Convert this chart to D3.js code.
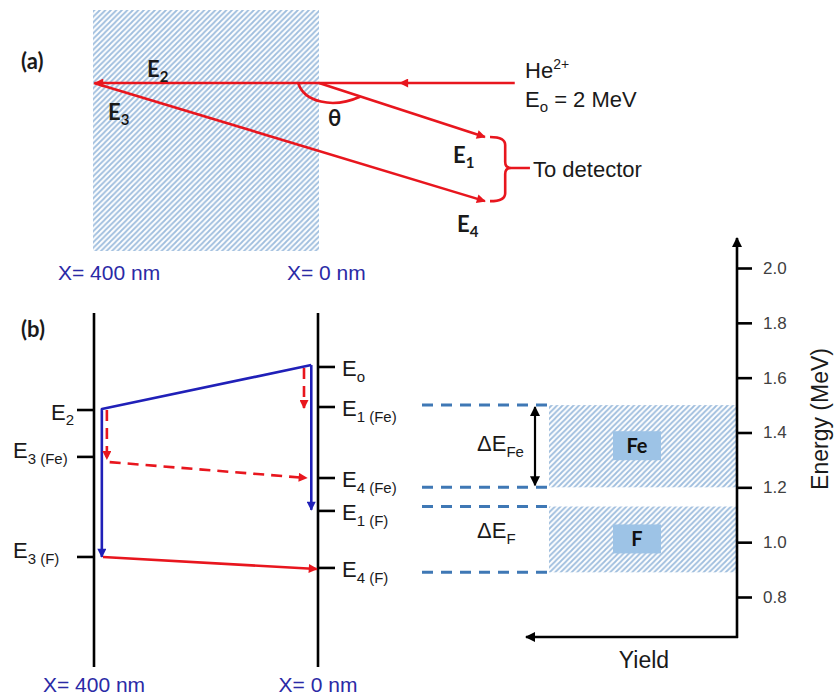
<!DOCTYPE html>
<html><head><meta charset="utf-8">
<script src="https://cdn.jsdelivr.net/npm/d3@7"></script>
<style>body{margin:0;background:#fff} svg{display:block}</style>
</head><body><svg id="c" width="834" height="696"></svg>
<script>
// ---------- data ----------
const energyTicks = [0.8, 1.0, 1.2, 1.4, 1.6, 1.8, 2.0];
const bands = [{name:"Fe", lo:1.2, hi:1.5}, {name:"F", lo:0.89, hi:1.13}];
const leftLevels = [{sub:"2", E:1.482}, {sub:"3 (Fe)", E:1.311}, {sub:"3 (F)", E:0.946}];
const rightLevels = [{sub:"o", E:1.639}, {sub:"1 (Fe)", E:1.493}, {sub:"4 (Fe)", E:1.234}, {sub:"1 (F)", E:1.114}, {sub:"4 (F)", E:0.906}];
const blueToBack = [[12,1.646],[386,1.486],[386,0.946]];
const blueSurface = [[12,1.646],[12,1.118]];
const redDashed = [[[25,1.635],[25,1.489]], [[377,1.482],[377,1.303]], [[372,1.292],[20,1.234]]];
const redSolid = [[384,0.946],[2,0.902]];
const depthLabels = [400, 0];
// panel (a): depth (nm) and exit offset
const beamIn = [[-348,0],[-144,0],[398,0]];
const exitE1 = [[0,0],[-295,96]];
const exitE4 = [[400,0],[-295,210]];

// ---------- setup ----------
const svg = d3.select("#c");
const RED = "#e8161e", BLUE = "#2020b8", DBLUE = "#2a2aa6", DASH = "#3f78b5", HATCH = "#9fbede";
const ARIAL = "'Liberation Sans', Arial, sans-serif";
const BOLD = "Lato, 'Open Sans', 'DejaVu Sans', sans-serif";
const defs = svg.append("defs");
const pat = defs.append("pattern").attr("id","hatch").attr("patternUnits","userSpaceOnUse")
  .attr("width",5.5).attr("height",5.5);
pat.append("rect").attr("width",5.5).attr("height",5.5).attr("fill","#fff");
pat.append("path").attr("d","M-1,1 L1,-1 M0,5.5 L5.5,0 M4.5,6.5 L6.5,4.5")
  .attr("stroke",HATCH).attr("stroke-width",1.8);
function marker(id, color, w, h){
  defs.append("marker").attr("id",id).attr("viewBox","0 0 10 10").attr("refX",9).attr("refY",5)
    .attr("markerWidth",w).attr("markerHeight",h).attr("markerUnits","userSpaceOnUse").attr("orient","auto")
    .append("path").attr("d","M0,0 L10,5 L0,10 z").attr("fill",color);
}
marker("ar", RED, 11, 9); marker("ab", BLUE, 10, 9); marker("ak", "#000", 11, 10);
defs.append("marker").attr("id","akS").attr("viewBox","0 0 10 10").attr("refX",9).attr("refY",5)
  .attr("markerWidth",11).attr("markerHeight",10).attr("markerUnits","userSpaceOnUse").attr("orient","auto-start-reverse")
  .append("path").attr("d","M0,0 L10,5 L0,10 z").attr("fill","#000");

function label(x, y, main, sub, o){
  o = o || {};
  const t = svg.append("text").attr("x",x).attr("y",y)
    .attr("font-family",o.family||ARIAL).attr("font-size",o.size||21)
    .attr("font-weight",o.weight||"normal").attr("fill",o.fill||"#1a1a1a")
    .attr("text-anchor",o.anchor||"start");
  t.append("tspan").text(main);
  if (sub){
    const sd = o.subDy!=null?o.subDy:6;
    t.append("tspan").attr("font-size",o.subSize||15).attr("dy",sd).text(sub);
    if (o.after){ t.append("tspan").attr("dy",-sd).text(o.after); }
  }
  return t;
}
const line = d3.line();

// ---------- panel (a) ----------
const xA = d3.scaleLinear().domain([400, 0]).range([94, 319]);
const yA = d3.scaleLinear().domain([0, 100]).range([83, 139.25]);
svg.append("rect").attr("x",xA(400)-1).attr("y",10).attr("width",xA(0)-xA(400)+1).attr("height",241)
  .attr("fill","url(#hatch)");
const pA = d => [xA(d[0]), yA(d[1])];
svg.append("path").attr("d",line(beamIn.map(pA))).attr("fill","none").attr("stroke",RED)
  .attr("stroke-width",2.6).attr("marker-mid","url(#ar)").attr("marker-end","url(#ar)");
[exitE1, exitE4].forEach(p => svg.append("path").attr("d",line(p.map(pA))).attr("fill","none")
  .attr("stroke",RED).attr("stroke-width",2.6).attr("marker-end","url(#ar)"));
// theta arc
{
  const s = pA([37,0]), e = pA([-73,24.5]);
  svg.append("path").attr("d",`M${s[0]},${s[1]} C${s[0]+6},${s[1]+19} ${s[0]+34},${s[1]+26} ${e[0]},${e[1]}`)
    .attr("fill","none").attr("stroke",RED).attr("stroke-width",2.6);
}
// bracket
{
  const x0 = xA(-304), x1 = xA(-331), xt = xA(-375);
  const yt = yA(96), ym = yA(151), yb = yA(210);
  svg.append("path").attr("d",
    `M${x0},${yt} Q${x1},${yt} ${x1},${yt+8} L${x1},${ym-6} Q${x1},${ym} ${x1+6},${ym} L${xt},${ym}
     M${x1+6},${ym} Q${x1},${ym} ${x1},${ym+6} L${x1},${yb-8} Q${x1},${yb} ${x0},${yb}`)
    .attr("fill","none").attr("stroke",RED).attr("stroke-width",2.6);
}
const bA = {family:BOLD, weight:"bold", size:22, subSize:15, subDy:5};
label(21, 69, "(a)", null, {family:BOLD, weight:"bold", size:22});
label(147, 77, "E", "2", bA);
label(108, 120, "E", "3", bA);
label(328, 126, "θ", null, {family:BOLD, weight:"bold", size:22});
label(453, 163, "E", "1", bA);
label(457, 232, "E", "4", bA);
{
  const t = svg.append("text").attr("x",525).attr("y",78).attr("font-family",ARIAL).attr("font-size",22).attr("fill","#1a1a1a");
  t.append("tspan").text("He");
  t.append("tspan").attr("font-size",14).attr("dy",-9).text("2+");
}
label(525, 107, "E", "o", {size:22, subSize:15, subDy:5, after:" = 2 MeV"});
label(533, 177, "To detector", null, {size:22});
depthLabels.forEach((d,i) => label(xA(d)+(i?-32:-36), 280, `X= ${d} nm`, null, {size:21, fill:DBLUE}));

// ---------- panel (b) ----------
const xB = d3.scaleLinear().domain([400, 0]).range([94, 318]);
const yE = d3.scaleLinear().domain([0.8, 2.0]).range([597, 268]);
const pB = d => [xB(d[0]), yE(d[1])];
label(21, 337, "(b)", null, {family:BOLD, weight:"bold", size:22});
depthLabels.forEach(d => {
  svg.append("line").attr("x1",xB(d)).attr("x2",xB(d)).attr("y1",313).attr("y2",667)
    .attr("stroke","#000").attr("stroke-width",2.6);
  label(xB(d), 692, `X= ${d} nm`, null, {size:21, fill:DBLUE, anchor:"middle"});
});
leftLevels.forEach((l,i) => {
  const y = yE(l.E);
  svg.append("line").attr("x1",xB(400)-17).attr("x2",xB(400)).attr("y1",y).attr("y2",y).attr("stroke","#000").attr("stroke-width",2.6);
  if (i === 0) label(74, y+10, "E", l.sub, {anchor:"end", subDy:5, size:22});
  else label(13, y+1, "E", l.sub, {subDy:6, size:22});
});
rightLevels.forEach(l => {
  const y = yE(l.E);
  svg.append("line").attr("x1",xB(0)).attr("x2",xB(0)+17).attr("y1",y).attr("y2",y).attr("stroke","#000").attr("stroke-width",2.6);
  label(342, y+9, "E", l.sub, {subDy:6, size:22});
});
svg.append("path").attr("d",line(blueToBack.map(pB))).attr("fill","none").attr("stroke",BLUE)
  .attr("stroke-width",2.6).attr("stroke-linejoin","round").attr("marker-end","url(#ab)");
svg.append("path").attr("d",line(blueSurface.map(pB))).attr("fill","none").attr("stroke",BLUE)
  .attr("stroke-width",2.6).attr("marker-end","url(#ab)");
redDashed.forEach(p => svg.append("path").attr("d",line(p.map(pB))).attr("fill","none").attr("stroke",RED)
  .attr("stroke-width",2.6).attr("stroke-dasharray","11,7").attr("marker-end","url(#ar)"));
svg.append("path").attr("d",line(redSolid.map(pB))).attr("fill","none").attr("stroke",RED)
  .attr("stroke-width",2.6).attr("marker-end","url(#ar)");

// ---------- spectrum panel ----------
const axX = 737;
bands.forEach(b => {
  svg.append("rect").attr("x",549).attr("y",yE(b.hi)).attr("width",axX-549).attr("height",yE(b.lo)-yE(b.hi))
    .attr("fill","url(#hatch)");
  [b.hi, b.lo].forEach(e => svg.append("line").attr("x1",422).attr("x2",552).attr("y1",yE(e)).attr("y2",yE(e))
    .attr("stroke",DASH).attr("stroke-width",3).attr("stroke-dasharray","11,8"));
  const cy = (yE(b.hi)+yE(b.lo))/2;
  svg.append("rect").attr("x",613).attr("y",cy-15).attr("width",48).attr("height",29).attr("fill","#9dc3e6");
  svg.append("text").attr("x",637).attr("y",cy+7).attr("text-anchor","middle").attr("font-family",BOLD)
    .attr("font-weight","bold").attr("font-size",20).attr("fill","#111").text(b.name);
  label(477, cy+ (b.name==="Fe"?5:-1), "ΔE", b.name, {size:22, subSize:15, subDy:6});
});
svg.append("line").attr("x1",535).attr("x2",535).attr("y1",yE(1.5)+2).attr("y2",yE(1.2)-2)
  .attr("stroke","#000").attr("stroke-width",2.2).attr("marker-start","url(#akS)").attr("marker-end","url(#ak)");
// axes
svg.append("line").attr("x1",axX).attr("x2",axX).attr("y1",638).attr("y2",238)
  .attr("stroke","#000").attr("stroke-width",2.6).attr("marker-end","url(#ak)");
svg.append("line").attr("x1",axX+1).attr("x2",526).attr("y1",637).attr("y2",637)
  .attr("stroke","#000").attr("stroke-width",2.6).attr("marker-end","url(#ak)");
const ax = svg.append("g").attr("transform",`translate(${axX},0)`)
  .call(d3.axisRight(yE).tickValues(energyTicks).tickSize(15).tickPadding(11).tickFormat(d3.format(".1f")));
ax.select(".domain").remove();
ax.selectAll(".tick line").attr("stroke","#000").attr("stroke-width",2.6);
ax.selectAll(".tick text").attr("font-family",ARIAL).attr("font-size",17).attr("fill","#404040");
svg.append("text").attr("transform","translate(828,419) rotate(-90)").attr("text-anchor","middle")
  .attr("font-family",ARIAL).attr("font-size",23).attr("fill","#1a1a1a").text("Energy (MeV)");
svg.append("text").attr("x",644).attr("y",668).attr("text-anchor","middle")
  .attr("font-family",ARIAL).attr("font-size",23).attr("fill","#1a1a1a").text("Yield");
</script></body></html>
